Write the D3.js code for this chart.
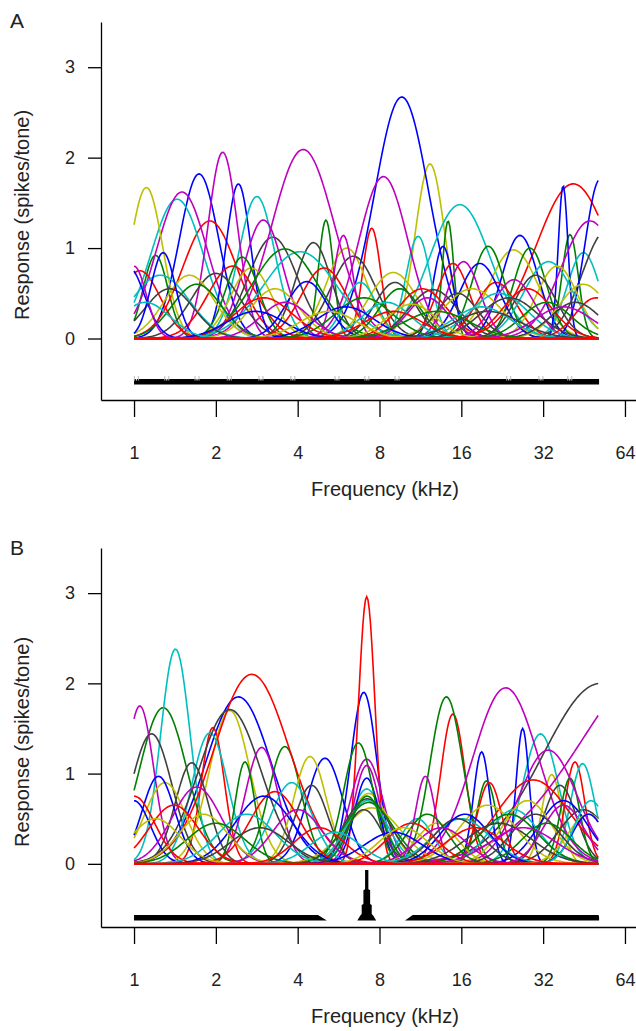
<!DOCTYPE html>
<html>
<head>
<meta charset="utf-8">
<script src="https://cdn.jsdelivr.net/npm/d3@7"></script>
<style>
  body { margin: 0; background: #fff; }
  svg { display: block; font-family: "Liberation Sans", Arial, sans-serif; }
</style>
</head>
<body>
<svg id="chart" width="636" height="1031"></svg>
<script>
// tuning curves: [best frequency (kHz), peak (spikes/tone), width (octaves, sd)]
// plotted in order, colour cycles b g r c m y k (one row = one cycle)
const tuningA = [
  [1.735,1.82,0.24], [1.2,0.92,0.15], [1.90,1.30,0.33], [1.44,1.54,0.32], [1.50,1.62,0.31], [1.11,1.67,0.20], [3.24,1.12,0.30],
  [2.42,1.71,0.15], [5.08,1.31,0.09], [7.49,1.22,0.11], [2.83,1.57,0.22], [2.12,2.06,0.18], [12.27,1.93,0.18], [4.57,1.06,0.22],
  [9.66,2.67,0.33], [14.3,1.30,0.07], [41.3,1.71,0.45], [15.8,1.48,0.37], [2.99,1.31,0.24], [6.06,1.00,0.25], [6.41,0.91,0.28],
  [13.7,1.02,0.12], [40.2,1.15,0.10], [14.9,0.83,0.20], [11.1,1.13,0.15], [4.19,2.09,0.38], [24.9,0.98,0.30], [9.12,0.62,0.25],
  [26.3,1.14,0.22], [20.1,1.02,0.20], [1.05,0.75,0.25], [45.0,0.95,0.20], [8.27,1.79,0.30], [8.98,0.73,0.30], [12.6,0.54,0.30],
  [37.9,1.69,0.06], [28.6,1.00,0.20], [2.3,0.80,0.30], [4.08,0.96,0.45], [5.89,1.14,0.12], [2.7,0.78,0.25], [55,1.20,0.30],
  [51.8,1.76,0.18], [3.59,0.99,0.40], [21.5,0.62,0.25], [33.5,0.85,0.30], [47.6,1.30,0.35], [36.0,0.80,0.25], [2.0,0.72,0.30],
  [18.7,0.83,0.25], [2.5,0.90,0.20], [5.0,0.78,0.28], [6.8,0.62,0.20], [16.3,0.85,0.20], [1.6,0.70,0.30], [30.0,0.70,0.25],
  [4.32,0.63,0.25], [9.5,0.55,0.25], [11.5,0.55,0.30], [1.25,0.70,0.35], [25.0,0.65,0.25], [17.5,0.55,0.35], [15.5,0.50,0.25],
  [0.95,0.80,0.20], [1.7,0.60,0.30], [28.0,0.55,0.30], [22.0,0.50,0.35], [1.0,0.80,0.15], [3.3,0.55,0.30], [1.35,0.55,0.30],
  [1.28,0.95,0.15], [7.0,0.45,0.35], [3.0,0.45,0.35], [8.5,0.40,0.30], [12.0,0.45,0.25], [45.0,0.60,0.30], [24.0,0.45,0.35],
  [6.0,0.35,0.35], [33.0,0.40,0.30], [50.0,0.45,0.25], [19.0,0.35,0.35], [3.6,0.40,0.30], [10.5,0.38,0.30], [42.0,0.40,0.30],
  [2.8,0.30,0.35], [13.0,0.30,0.40], [9.0,0.30,0.35], [1.1,0.40,0.30], [38.0,0.35,0.35], [5.2,0.30,0.35], [20.0,0.30,0.40]
];

const tuningB = [
  [2.42,1.85,0.40], [1.28,1.73,0.29], [1.95,1.51,0.14], [1.42,2.38,0.18], [1.05,1.75,0.17], [2.25,1.70,0.25], [1.16,1.44,0.25],
  [5.04,1.17,0.22], [3.59,1.30,0.20], [2.71,2.10,0.46], [1.9,1.45,0.22], [2.95,1.29,0.20], [4.44,1.19,0.20], [1.63,1.12,0.20],
  [7.0,1.90,0.16], [2.56,1.13,0.12], [7.18,2.96,0.10], [7.18,0.83,0.20], [7.18,1.16,0.20], [7.3,0.78,0.25], [2.25,1.71,0.38],
  [7.18,0.95,0.15], [6.69,1.34,0.18], [14.9,1.66,0.15], [31.3,1.44,0.22], [7.18,1.09,0.16], [34.4,0.99,0.12], [52,2.00,0.70],
  [19.0,1.24,0.10], [14.1,1.85,0.20], [41.9,1.13,0.12], [44.7,1.11,0.15], [23.3,1.95,0.40], [7.5,0.62,0.35], [4.5,0.87,0.20],
  [26.9,1.50,0.08], [19.8,0.92,0.12], [20.3,0.90,0.15], [7.2,0.70,0.25], [90,2.30,1.00], [1.3,0.90,0.25], [36.9,0.87,0.20],
  [1.23,0.97,0.20], [40.2,0.95,0.12], [29.4,0.93,0.45], [11.0,0.50,0.20], [33.4,1.26,0.35], [13.0,0.45,0.25], [7.2,0.72,0.28],
  [38.0,0.70,0.30], [7.3,0.68,0.30], [1.0,0.75,0.25], [25.0,0.60,0.30], [11.8,0.97,0.12], [28.0,0.70,0.30], [7.0,0.60,0.22],
  [1.0,0.70,0.20], [12.0,0.55,0.25], [3.3,0.80,0.30], [3.8,0.90,0.25], [1.7,0.85,0.30], [20.0,0.65,0.35], [45.0,0.60,0.30],
  [3.0,0.75,0.35], [7.2,0.75,0.20], [1.4,0.65,0.30], [16.0,0.50,0.35], [4.0,0.60,0.30], [1.8,0.55,0.30], [15.5,0.50,0.30],
  [16.5,0.55,0.30], [24.0,0.55,0.35], [10.5,0.45,0.30], [2.6,0.55,0.35], [38.0,0.65,0.25], [47.0,0.55,0.25], [22.0,0.45,0.40],
  [47.0,0.55,0.20], [2.0,0.45,0.35], [4.8,0.40,0.30], [48.0,0.70,0.20], [13.5,0.40,0.30], [1.2,0.50,0.30], [30.0,0.55,0.30],
  [9.0,0.35,0.35], [33.0,0.45,0.30], [18.0,0.40,0.35], [5.5,0.35,0.30], [27.0,0.40,0.40], [9.8,0.40,0.30], [2.9,0.40,0.35]
];

// stimulus distribution: [frequency (kHz), relative density]
const stimA = [[1.0, 1], [51.4, 1]];
const notchesA = [1.02, 1.32, 1.705, 2.24, 2.93, 3.84, 5.58, 7.19, 9.28, 23.9, 31.4, 40.1];
const stimB = [
  [1.0, 1], [4.75, 1], [5.12, 0],
  [6.63, 0], [6.80, 0.9], [6.88, 1.2], [6.88, 2.8], [6.98, 3.0], [6.98, 5.5], [7.08, 5.7], [7.08, 9.2],
  [7.28, 9.2], [7.28, 5.7], [7.39, 5.5], [7.39, 3.0], [7.49, 2.8], [7.49, 1.2], [7.58, 0.9], [7.78, 0],
  [9.93, 0], [10.6, 1], [51.2, 1], [51.4, 0.6]
];

const freqTicks = [1, 2, 4, 8, 16, 32, 64];
const respTicks = [0, 1, 2, 3];
const panelLabels = ["A", "B"];

const colorOrder = ["#0000ff", "#008000", "#ff0000", "#00bfbf", "#bf00bf", "#bfbf00", "#404040"];
const fLo = 1, fHi = 51;

const svg = d3.select("#chart");

const panels = [
  { tuning: tuningA, stim: stimA, notches: notchesA, top: 22, bottom: 400, yMin: -0.68, barBase: -0.509, off: 0 },
  { tuning: tuningB, stim: stimB, notches: [], top: 548, bottom: 927, yMin: -0.70, barBase: -0.628, off: 527 }
];

// frequency grid the tuning functions are evaluated on
const grid = d3.range(0, Math.log2(fHi), 1 / 64).map(t => 2 ** t).concat([fHi]);

panels.forEach((p, pi) => {
  const x = d3.scaleLog().base(2).domain([0.7559, 70.27]).range([101, 636]);
  const y = d3.scaleLinear().domain([p.yMin, 3.5]).range([p.bottom, p.top]);
  const g = svg.append("g");

  const line = d3.line().x(d => x(d[0])).y(d => y(d[1]));

  // tuning curves
  g.append("g").selectAll("path")
    .data(p.tuning)
    .join("path")
    .attr("d", ([bf, pk, sd]) => line(grid.map(f => {
      const o = Math.log2(f / bf);
      return [f, pk * Math.exp(-o * o / (2 * sd * sd))];
    })))
    .attr("fill", "none")
    .attr("stroke", (d, i) => colorOrder[i % colorOrder.length])
    .attr("stroke-width", 1.6);

  // zero-response line drawn last (red)
  g.append("path")
    .attr("d", line([[fLo, 0], [fHi, 0]]))
    .attr("fill", "none")
    .attr("stroke", "#ff0000")
    .attr("stroke-width", 2.5);

  // stimulus bar
  const barH = d3.scaleLinear().domain([0, 1]).range([0, 5.5]);
  const area = d3.area()
    .x(d => x(d[0]))
    .y0(y(p.barBase))
    .y1(d => y(p.barBase) - barH(d[1]));
  g.append("path")
    .attr("d", area(p.stim))
    .attr("fill", "#000");

  const barTop = y(p.barBase) - barH(1);
  const n = g.append("g");
  p.notches.forEach(f => {
    [-2, 0, 2].forEach(dx => {
      n.append("line")
        .attr("x1", x(f) + dx).attr("x2", x(f) + dx)
        .attr("y1", barTop - 3).attr("y2", barTop + 1.5)
        .attr("stroke", dx === 0 ? "#fff" : "#bbb")
        .attr("stroke-width", 1);
    });
  });

  // axes
  const xAxis = g.append("g")
    .attr("transform", `translate(0,${p.bottom})`)
    .call(d3.axisBottom(x).tickValues(freqTicks).tickFormat(d3.format("d"))
      .tickSize(17).tickSizeOuter(0).tickPadding(29));
  const yAxis = g.append("g")
    .attr("transform", "translate(101,0)")
    .call(d3.axisLeft(y).tickValues(respTicks).tickFormat(d3.format("d"))
      .tickSize(13).tickSizeOuter(0).tickPadding(13));

  [xAxis, yAxis].forEach(a => {
    a.attr("font-family", null).attr("font-size", 18);
    a.selectAll("path, line").attr("stroke", "#000").attr("stroke-width", 1.3);
    a.selectAll("text").attr("fill", "#222");
  });

  // titles
  g.append("text")
    .attr("x", 385).attr("y", 496 + p.off)
    .attr("text-anchor", "middle")
    .attr("font-size", 20).attr("fill", "#222")
    .text("Frequency (kHz)");

  g.append("text")
    .attr("transform", `translate(29,${215 + p.off}) rotate(-90)`)
    .attr("text-anchor", "middle")
    .attr("font-size", 20).attr("fill", "#222")
    .text("Response (spikes/tone)");

  g.append("text")
    .attr("x", 10).attr("y", 28 + p.off)
    .attr("font-size", 21).attr("fill", "#222")
    .text(panelLabels[pi]);
});
</script>
</body>
</html>
